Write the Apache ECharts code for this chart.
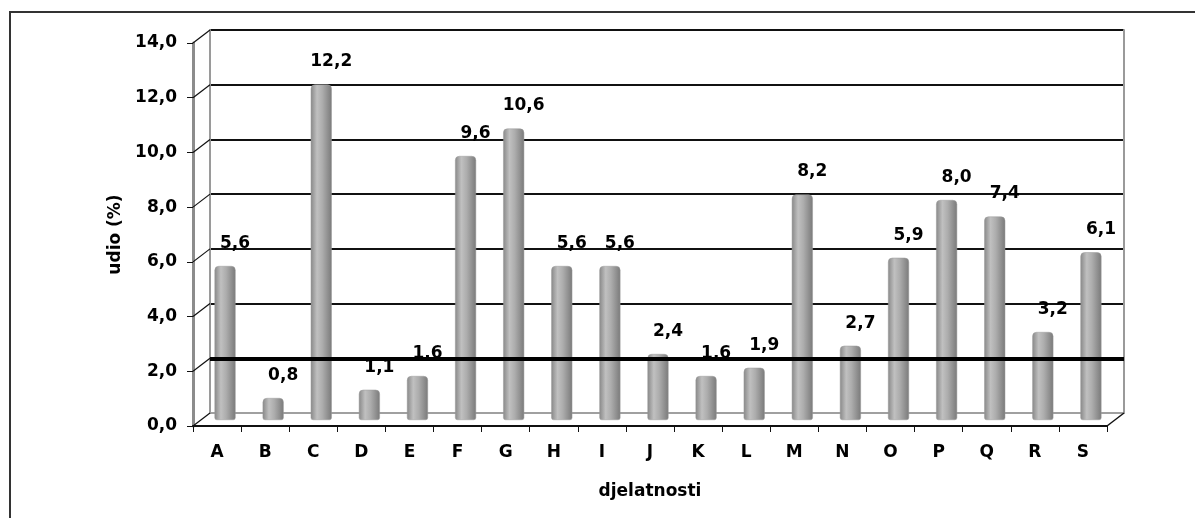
<!DOCTYPE html>
<html>
<head>
<meta charset="utf-8">
<script src="https://cdn.jsdelivr.net/npm/echarts@6/dist/echarts.min.js"></script>
<style>
html,body{margin:0;padding:0;background:#fff;}
#chart{width:1195px;height:518px;}
</style>
</head>
<body>
<div id="chart"></div>
<script>
// ---- data ----
const categories = ['A','B','C','D','E','F','G','H','I','J','K','L','M','N','O','P','Q','R','S'];
const shares = [5.6, 0.8, 12.2, 1.1, 1.6, 9.6, 10.6, 5.6, 5.6, 2.4, 1.6, 1.9, 8.2, 2.7, 5.9, 8.0, 7.4, 3.2, 6.1];
const yTicks = [0, 2, 4, 6, 8, 10, 12, 14];
const thickGridValue = 2;
const yAxisTitle = 'udio (%)';
const xAxisTitle = 'djelatnosti';

// ---- layout ----
const W = 1195, H = 518;
const FONT = 'DejaVu Sans';
const front = {left:193, right:1107, top:43, bottom:426};
const back  = {left:210, right:1124, top:30, bottom:413};
const mid   = {left:201, right:1115, top:35, bottom:420};
function gridOf(g){ return {left:g.left, width:g.right-g.left, top:g.top, height:g.bottom-g.top, containLabel:false}; }

const fmt = v => v.toFixed(1).replace('.', ',');

const chart = echarts.init(document.getElementById('chart'), null, {renderer:'canvas'});
const yMin = yTicks[0], yMax = yTicks[yTicks.length-1], yStep = yTicks[1]-yTicks[0];

const option = {
  backgroundColor:'#fff',
  animation:false,
  grid:[gridOf(front), gridOf(back), gridOf(mid)],
  xAxis:[
    {gridIndex:0, type:'category', data:categories, boundaryGap:true,
     axisLine:{show:true, lineStyle:{color:'#111', width:2}},
     axisTick:{show:true, length:6, lineStyle:{color:'#111', width:1}},
     axisLabel:{color:'#000', fontFamily:FONT, fontWeight:'bold', fontSize:17, margin:18},
     name:xAxisTitle, nameLocation:'middle', nameGap:57,
     nameTextStyle:{color:'#000', fontFamily:FONT, fontWeight:'bold', fontSize:17}},
    {gridIndex:1, type:'category', data:categories, show:false},
    {gridIndex:2, type:'category', data:categories, show:false}
  ],
  yAxis:[
    {gridIndex:0, type:'value', min:yMin, max:yMax, interval:yStep,
     axisLine:{show:true, lineStyle:{color:'#8c8c8c', width:3}},
     axisTick:{show:true, length:6, lineStyle:{color:'#111', width:1}},
     splitLine:{show:false},
     axisLabel:{color:'#000', fontFamily:FONT, fontWeight:'bold', fontSize:17, margin:16, formatter:fmt},
     name:yAxisTitle, nameLocation:'middle', nameGap:66, nameRotate:90,
     nameTextStyle:{color:'#000', fontFamily:FONT, fontWeight:'bold', fontSize:17}},
    {gridIndex:1, type:'value', min:yMin, max:yMax, interval:yStep,
     axisLine:{show:true, lineStyle:{color:'#9a9a9a', width:2}},
     axisTick:{show:false}, axisLabel:{show:false},
     splitLine:{show:true, lineStyle:{color:['#a0a0a0','#111','#111','#111','#111','#111','#111','#111'], width:2}}},
    {gridIndex:2, type:'value', min:yMin, max:yMax, interval:yStep, show:false},
    {gridIndex:1, type:'value', position:'right', min:yMin, max:yMax, interval:yStep,
     axisLine:{show:true, lineStyle:{color:'#9a9a9a', width:2}},
     axisTick:{show:false}, axisLabel:{show:false}, splitLine:{show:false}}
  ],
  series:[
    {type:'line', xAxisIndex:1, yAxisIndex:1, data:[], silent:true,
     markLine:{symbol:'none', silent:true, label:{show:false},
       lineStyle:{color:'#000', width:4, type:'solid'},
       data:[{yAxis:thickGridValue}]}},
    {type:'bar', xAxisIndex:2, yAxisIndex:2, data:shares, barWidth:21,
     itemStyle:{
       color:new echarts.graphic.LinearGradient(0,0,1,0,[
         {offset:0, color:'#888888'},
         {offset:0.3, color:'#c0c0c0'},
         {offset:0.55, color:'#adadad'},
         {offset:1, color:'#7a7a7a'}]),
       borderColor:'#9a9a9a', borderWidth:0.5, borderRadius:[4,4,2,2]},
     label:{show:true, position:'top', distance:14, offset:[10,0], color:'#000',
       fontFamily:FONT, fontWeight:'bold', fontSize:17, formatter:p=>fmt(p.value)}}
  ]
};
chart.setOption(option);

// 3D frame decorations computed through the axes' scales
const deco = [];
yTicks.forEach(v => {
  const yf = chart.convertToPixel({yAxisIndex:0}, v);
  const yb = chart.convertToPixel({yAxisIndex:1}, v);
  deco.push({type:'line', shape:{x1:front.left, y1:yf, x2:back.left, y2:yb},
    style:{stroke:'#111', lineWidth:1.2}, z:10});
});
const yf0 = chart.convertToPixel({yAxisIndex:0}, yMin);
const yb0 = chart.convertToPixel({yAxisIndex:1}, yMin);
deco.push({type:'line', shape:{x1:front.right, y1:yf0, x2:back.right, y2:yb0},
  style:{stroke:'#111', lineWidth:1.5}, z:10});
deco.push({type:'rect', shape:{x:10, y:12, width:W, height:H},
  style:{fill:'none', stroke:'#333', lineWidth:2}, z:20, silent:true});
chart.setOption({graphic:deco});
</script>
</body>
</html>
